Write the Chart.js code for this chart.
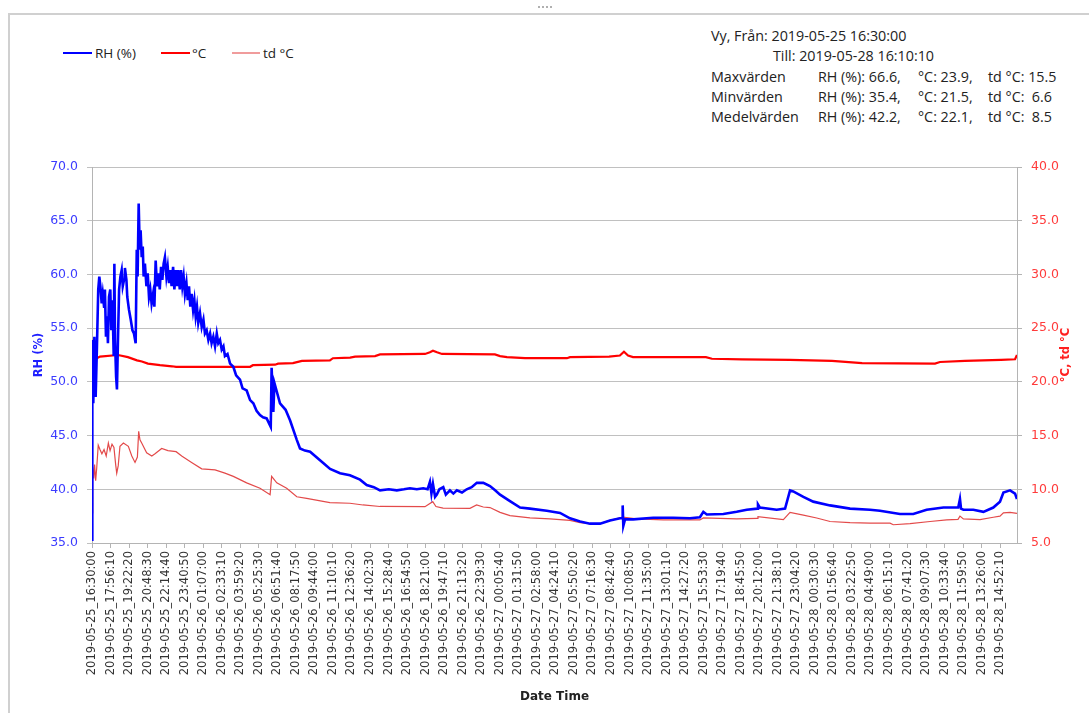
<!DOCTYPE html>
<html>
<head>
<meta charset="utf-8">
<script src="https://cdn.jsdelivr.net/npm/chart.js@4/dist/chart.umd.min.js"></script>
<style>
  body { margin: 0; background: #fff; }
  #wrap { position: relative; width: 1089px; height: 713px; overflow: hidden; font-family: "Open Sans", sans-serif; color: #222; }
  #chart { position: absolute; left: 0; top: 0; }
  .frameTop { position: absolute; left: 9px; top: 13px; width: 1080px; height: 0; border-top: 2px solid #d0d0d0; }
  .frameLeft { position: absolute; left: 8px; top: 13px; width: 0; height: 700px; border-left: 2px solid #d0d0d0; }
  .grip { position: absolute; left: 538px; top: 6px; width: 14px; border-top: 2px dotted #b0b0b0; }
  .leg { position: absolute; font-size: 13.5px; line-height: 16px; top: 45px; }
  .legLine { position: absolute; height: 2px; top: 52px; }
  .stat { position: absolute; font-size: 14.3px; line-height: 18px; white-space: pre; }
</style>
</head>
<body>
<div id="wrap">
  <div class="frameTop"></div>
  <div class="frameLeft"></div>
  <div class="grip"></div>

  <div class="legLine" style="left:63px;width:29px;background:#0000ff"></div>
  <div class="leg" style="left:95px">RH (%)</div>
  <div class="legLine" style="left:161px;width:29px;background:#ff0000"></div>
  <div class="leg" style="left:192px">°C</div>
  <div class="legLine" style="left:232px;width:28px;background:#f09c9c"></div>
  <div class="leg" style="left:263px">td °C</div>

  <div class="stat" style="left:711px;top:27px">Vy, Från: 2019-05-25 16:30:00</div>
  <div class="stat" style="left:773px;top:47px">Till: 2019-05-28 16:10:10</div>
  <div class="stat" style="left:711px;top:68px">Maxvärden</div>
  <div class="stat" style="left:818px;top:68px">RH (%): 66.6,</div>
  <div class="stat" style="left:918px;top:68px">°C: 23.9,</div>
  <div class="stat" style="left:988px;top:68px">td °C: 15.5</div>
  <div class="stat" style="left:711px;top:88px">Minvärden</div>
  <div class="stat" style="left:818px;top:88px">RH (%): 35.4,</div>
  <div class="stat" style="left:918px;top:88px">°C: 21.5,</div>
  <div class="stat" style="left:988px;top:88px">td °C:  6.6</div>
  <div class="stat" style="left:711px;top:108px">Medelvärden</div>
  <div class="stat" style="left:818px;top:108px">RH (%): 42.2,</div>
  <div class="stat" style="left:918px;top:108px">°C: 22.1,</div>
  <div class="stat" style="left:988px;top:108px">td °C:  8.5</div>

  <canvas id="chart" width="1089" height="713"></canvas>
</div>
<script>
// mätperiod
const startTime = '2019-05-25_16:30:00';
const endTime = '2019-05-28_16:10:10';

// etiketter på x-axeln
const tickLabels = [
  '2019-05-25_16:30:00', '2019-05-25_17:56:10', '2019-05-25_19:22:20', '2019-05-25_20:48:30',
  '2019-05-25_22:14:40', '2019-05-25_23:40:50', '2019-05-26_01:07:00', '2019-05-26_02:33:10',
  '2019-05-26_03:59:20', '2019-05-26_05:25:30', '2019-05-26_06:51:40', '2019-05-26_08:17:50',
  '2019-05-26_09:44:00', '2019-05-26_11:10:10', '2019-05-26_12:36:20', '2019-05-26_14:02:30',
  '2019-05-26_15:28:40', '2019-05-26_16:54:50', '2019-05-26_18:21:00', '2019-05-26_19:47:10',
  '2019-05-26_21:13:20', '2019-05-26_22:39:30', '2019-05-27_00:05:40', '2019-05-27_01:31:50',
  '2019-05-27_02:58:00', '2019-05-27_04:24:10', '2019-05-27_05:50:20', '2019-05-27_07:16:30',
  '2019-05-27_08:42:40', '2019-05-27_10:08:50', '2019-05-27_11:35:00', '2019-05-27_13:01:10',
  '2019-05-27_14:27:20', '2019-05-27_15:53:30', '2019-05-27_17:19:40', '2019-05-27_18:45:50',
  '2019-05-27_20:12:00', '2019-05-27_21:38:10', '2019-05-27_23:04:20', '2019-05-28_00:30:30',
  '2019-05-28_01:56:40', '2019-05-28_03:22:50', '2019-05-28_04:49:00', '2019-05-28_06:15:10',
  '2019-05-28_07:41:20', '2019-05-28_09:07:30', '2019-05-28_10:33:40', '2019-05-28_11:59:50',
  '2019-05-28_13:26:00', '2019-05-28_14:52:10'
];

// RH (%) - minuter från start och värden
const rhMinutes = [
  0, 1.5, 6, 11, 17, 23, 29, 34, 39, 45, 50, 56, 60, 65, 70, 74, 79, 85, 90, 95,
  101, 104, 107, 112, 116, 121, 126, 132, 138, 143, 149, 153, 160, 164, 172, 180, 188, 195, 203, 208,
  212, 217, 222, 226, 231, 236, 240, 246, 253, 259, 265, 271, 277, 284, 290, 296, 302, 308, 315, 321,
  327, 333, 339, 346, 352, 358, 364, 370, 377, 383, 389, 395, 401, 408, 414, 420, 426, 432, 439, 445,
  451, 457, 463, 470, 476, 482, 488, 494, 502, 510, 518, 525, 533, 541, 549, 556, 564, 572, 580, 587,
  595, 603, 611, 618, 630, 642, 657, 670, 688, 700, 719, 735, 750, 765, 781, 795, 812, 831, 835, 843,
  848, 874, 900, 921, 952, 967, 990, 1014, 1060, 1107, 1153, 1199, 1246, 1277, 1310, 1339, 1380, 1417, 1450, 1478,
  1510, 1540, 1560, 1571, 1578, 1585, 1595, 1603, 1615, 1633, 1645, 1664, 1680, 1696, 1720, 1742, 1765, 1789, 1819, 1850,
  1874, 1897, 1943, 1990, 2036, 2114, 2176, 2222, 2269, 2315, 2362, 2408, 2455, 2465, 2467, 2470, 2478, 2516, 2609, 2702,
  2780, 2826, 2842, 2858, 2935, 2997, 3044, 3093, 3096, 3105, 3183, 3222, 3245, 3260, 3307, 3353, 3431, 3524, 3617, 3663,
  3756, 3818, 3880, 3958, 4027, 4035, 4040, 4051, 4097, 4144, 4190, 4221, 4237, 4268, 4291, 4300
];
const rhValues = [
  35.3, 53.9, 48.0, 54.2, 48.6, 53.3, 58.6, 59.8, 58.9, 57.3, 58.2, 57.0, 58.6, 54.2, 56.1, 53.6, 57.9, 58.6, 54.8, 57.6,
  52.4, 61.0, 53.9, 50.5, 49.3, 54.2, 58.6, 59.8, 60.4, 58.9, 59.5, 60.6, 59.5, 57.9, 56.7, 55.8, 54.8, 54.5, 53.6, 62.3,
  59.8, 66.6, 62.3, 64.1, 61.6, 62.6, 59.8, 61.0, 58.9, 60.1, 57.9, 58.6, 57.3, 58.2, 57.0, 61.3, 58.9, 60.1, 58.6, 60.7,
  59.5, 61.0, 61.6, 59.8, 60.7, 59.2, 60.4, 58.9, 60.7, 58.6, 60.4, 58.9, 60.4, 58.6, 60.4, 58.9, 59.8, 58.2, 59.2, 57.6,
  58.9, 57.0, 58.2, 56.7, 57.6, 56.1, 57.0, 55.5, 56.4, 55.1, 55.8, 54.5, 54.8, 53.9, 54.5, 53.6, 54.2, 53.3, 54.5, 53.6,
  53.9, 53.0, 53.3, 52.4, 52.6, 51.7, 51.4, 50.6, 50.2, 49.4, 49.2, 48.3, 48.0, 47.3, 46.9, 46.7, 46.6, 45.8, 51.3, 47.2,
  49.9, 48.0, 47.4, 46.4, 44.6, 43.8, 43.6, 43.5, 42.7, 41.9, 41.5, 41.3, 40.9, 40.4, 40.2, 39.9, 40.0, 39.9, 40.0, 40.1,
  40.0, 40.1, 40.0, 40.7, 39.6, 40.5, 39.3, 39.5, 40.0, 40.2, 39.5, 39.9, 39.6, 39.9, 39.7, 40.0, 40.2, 40.6, 40.6, 40.3,
  39.9, 39.5, 38.9, 38.3, 38.2, 38.0, 37.8, 37.3, 37.0, 36.8, 36.8, 37.1, 37.3, 37.3, 38.5, 36.6, 37.2, 37.2, 37.35, 37.35,
  37.3, 37.4, 37.9, 37.65, 37.7, 37.9, 38.1, 38.2, 38.6, 38.3, 38.1, 38.2, 39.9, 39.8, 39.3, 38.85, 38.5, 38.2, 38.1, 38.0,
  37.7, 37.7, 38.1, 38.3, 38.3, 39.1, 38.2, 38.1, 38.1, 37.9, 38.3, 38.85, 39.7, 39.9, 39.6, 39.1
];

// °C
const tempMinutes = [
  0, 5, 14, 23, 37, 121, 167, 209, 232, 260, 316, 372, 391, 735, 748, 851, 865, 934, 976, 1106,
  1120, 1200, 1223, 1316, 1339, 1548, 1571, 1585, 1604, 1627, 1873, 1897, 1929, 2013, 2208, 2222, 2404, 2454, 2473, 2492,
  2515, 2854, 2882, 3022, 3245, 3440, 3580, 3919, 3942, 4058, 4226, 4291, 4300
];
const tempValues = [
  23.9, 23.5, 22.6, 22.2, 22.35, 22.5, 22.3, 22.0, 21.9, 21.7, 21.55, 21.45, 21.4, 21.4, 21.55, 21.6, 21.7, 21.75, 21.95, 22.0,
  22.2, 22.25, 22.35, 22.4, 22.55, 22.6, 22.75, 22.9, 22.75, 22.6, 22.55, 22.4, 22.3, 22.2, 22.2, 22.3, 22.35, 22.45, 22.8, 22.45,
  22.3, 22.3, 22.15, 22.1, 22.05, 21.95, 21.75, 21.7, 21.85, 21.95, 22.05, 22.1, 22.5
];

// td °C
const tdMinutes = [
  0, 3, 8, 12, 17, 22, 29, 37, 46, 56, 66, 76, 84, 93, 102, 110, 115, 122, 130, 146,
  169, 185, 200, 211, 217, 223, 231, 254, 278, 293, 324, 353, 391, 417, 463, 510, 572, 618, 657, 719,
  781, 828, 835, 859, 905, 952, 998, 1106, 1199, 1260, 1339, 1548, 1584, 1599, 1632, 1757, 1788, 1819, 1850, 1897,
  1943, 2036, 2129, 2222, 2269, 2315, 2362, 2408, 2467, 2532, 2656, 2826, 2842, 2997, 3092, 3096, 3214, 3245, 3307, 3369,
  3431, 3524, 3617, 3710, 3725, 3803, 3896, 3973, 4026, 4035, 4051, 4128, 4190, 4221, 4237, 4268, 4300
];
const tdValues = [
  7.8, 12.1, 11.0, 12.3, 10.8, 12.0, 14.1, 13.7, 13.3, 13.7, 13.1, 14.3, 13.6, 14.2, 13.9, 12.3, 11.5, 12.2, 14.0, 14.3,
  14.0, 13.1, 12.5, 13.0, 15.4, 14.6, 14.3, 13.4, 13.1, 13.3, 13.8, 13.6, 13.5, 13.1, 12.5, 11.9, 11.8, 11.5, 11.2, 10.6,
  10.1, 9.5, 11.2, 10.6, 10.1, 9.3, 9.16, 8.75, 8.7, 8.54, 8.4, 8.38, 8.85, 8.4, 8.25, 8.23, 8.54, 8.35, 8.3, 7.85,
  7.55, 7.33, 7.24, 7.1, 6.9, 6.8, 6.8, 7.1, 7.4, 7.24, 7.15, 7.15, 7.33, 7.24, 7.3, 7.45, 7.18, 7.85, 7.6, 7.33,
  7.0, 6.9, 6.85, 6.85, 6.7, 6.8, 7.0, 7.15, 7.2, 7.5, 7.24, 7.18, 7.4, 7.5, 7.8, 7.85, 7.75
];

function toMs(s) { return Date.parse(s.replace('_', 'T')); }
const t0 = toMs(startTime);
const endMinutes = (toMs(endTime) - t0) / 60000;
const tickMinutes = tickLabels.map(l => (toMs(l) - t0) / 60000);

function pairs(xs, ys) { return xs.map((x, i) => ({ x: x, y: ys[i] })); }

// rubriker på axlarna
const axisTitles = {
  id: 'axisTitles',
  afterDraw(chart) {
    const c = chart.ctx;
    const a = chart.chartArea;
    const mid = (a.top + a.bottom) / 2;
    c.save();
    c.font = 'bold 11.5px "DejaVu Sans"';
    c.textAlign = 'center';
    c.textBaseline = 'middle';
    c.fillStyle = '#1f1fff';
    c.translate(39, mid);
    c.rotate(-Math.PI / 2);
    c.fillText('RH (%)', 0, 0);
    c.restore();
    c.save();
    c.font = 'bold 11.5px "DejaVu Sans"';
    c.textAlign = 'center';
    c.textBaseline = 'middle';
    c.fillStyle = '#ff2020';
    c.translate(1066, mid);
    c.rotate(-Math.PI / 2);
    c.fillText('°C, td °C', 0, 0);
    c.restore();
    c.save();
    c.font = 'bold 12px "DejaVu Sans"';
    c.textAlign = 'center';
    c.textBaseline = 'middle';
    c.fillStyle = '#222';
    c.fillText('Date Time', (a.left + a.right) / 2, 697);
    c.restore();
  }
};

const ctx = document.getElementById('chart').getContext('2d');
const chart = new Chart(ctx, {
  type: 'line',
  data: {
    datasets: [{
      label: 'RH (%)',
      data: pairs(rhMinutes, rhValues),
      borderColor: '#0000ff',
      borderWidth: 2.6,
      yAxisID: 'y'
    }, {
      label: '°C',
      data: pairs(tempMinutes, tempValues),
      borderColor: '#ff0000',
      borderWidth: 2.2,
      yAxisID: 'y1'
    }, {
      label: 'td °C',
      data: pairs(tdMinutes, tdValues),
      borderColor: '#e34a4a',
      borderWidth: 1.2,
      yAxisID: 'y1'
    }]
  },
  options: {
    responsive: false,
    animation: false,
    layout: { padding: { top: 167, left: 0, right: 0, bottom: 0 } },
    elements: { point: { radius: 0 }, line: { tension: 0 } },
    plugins: { legend: { display: false }, tooltip: { enabled: false } },
    scales: {
      x: {
        type: 'linear',
        min: 0,
        max: endMinutes,
        afterBuildTicks: axis => { axis.ticks = tickMinutes.map(v => ({ value: v })); },
        afterFit: axis => { axis.height = 170; },
        grid: { drawOnChartArea: false, drawTicks: true, tickLength: 5, color: '#b4b4b4' },
        border: { color: '#b4b4b4' },
        ticks: {
          autoSkip: false,
          maxRotation: 90,
          minRotation: 90,
          padding: 3,
          color: '#333',
          font: { family: 'DejaVu Sans', size: 11.5 },
          callback: (v, i) => tickLabels[i]
        }
      },
      y: {
        position: 'left',
        min: 35,
        max: 70,
        afterFit: axis => { axis.width = 92; },
        grid: { color: '#c0c0c0', tickLength: 5 },
        border: { color: '#b4b4b4' },
        ticks: {
          stepSize: 5,
          padding: 9,
          color: '#3b3bff',
          font: { family: 'DejaVu Sans', size: 12.5 },
          callback: v => v.toFixed(1)
        }
      },
      y1: {
        position: 'right',
        min: 5,
        max: 40,
        afterFit: axis => { axis.width = 72; },
        grid: { drawOnChartArea: false, color: '#b4b4b4', tickLength: 5 },
        border: { color: '#b4b4b4' },
        ticks: {
          stepSize: 5,
          padding: 9,
          color: '#ff3b3b',
          font: { family: 'DejaVu Sans', size: 12.5 },
          callback: v => v.toFixed(1)
        }
      }
    }
  },
  plugins: [axisTitles]
});
</script>
</body>
</html>
